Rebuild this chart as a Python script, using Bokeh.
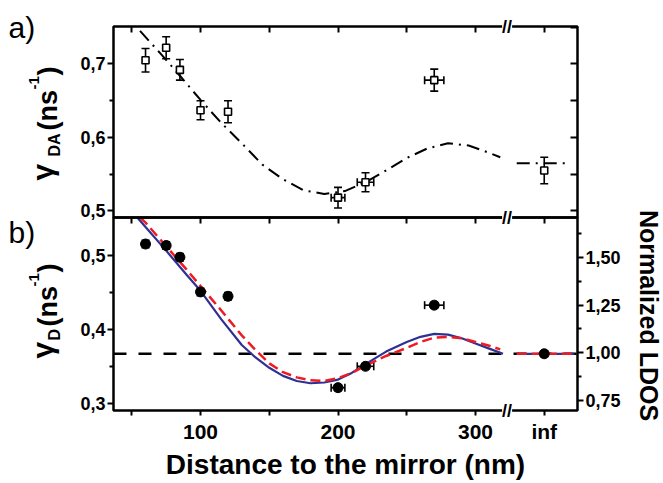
from math import pi
from bokeh.plotting import figure
from bokeh.models import (LinearAxis, Range1d, FixedTicker, CustomJSTickFormatter, Whisker,
                          TeeHead, ColumnDataSource, Label, BoxAnnotation)
from bokeh.embed import file_html
from bokeh.resources import INLINE

# ---------------- data ----------------
INF_POS = 350          # position of "inf" on the broken distance axis
BREAK_X = 323          # where the axis break is drawn
dist = [60, 75, 85, 100, 120, 200, 220, 270, INF_POS]
dist_err = [0, 0, 0, 0, 0, 5, 6, 7, 0]

gamma_da = [0.705, 0.722, 0.692, 0.637, 0.635, 0.518, 0.539, 0.678, 0.555]
gamma_da_err = [0.016, 0.015, 0.014, 0.013, 0.015, 0.014, 0.013, 0.015, 0.018]

gamma_d = [0.516, 0.514, 0.498, 0.451, 0.445, 0.321, 0.350, 0.433, 0.367]
gamma_d_err = [0.005, 0.005, 0.005, 0.005, 0.005, 0.004, 0.004, 0.004, 0.004]

fit_a_x = [56, 70, 85, 100, 115, 130, 145, 160, 175, 190, 205, 220, 235, 250, 265, 280, 295, 310, 318]
fit_a_y = [0.745, 0.716, 0.684, 0.651, 0.620, 0.592, 0.563, 0.543, 0.528, 0.523, 0.527, 0.539,
           0.555, 0.572, 0.585, 0.592, 0.589, 0.579, 0.573]
fit_a_inf_x = [330, 368]
fit_a_inf_y = [0.565, 0.565]

blue_x = [54, 60, 75, 90, 100, 115, 130, 140, 150, 160, 170, 180, 190, 200, 210, 220, 235,
          250, 260, 270, 280, 290, 300, 310, 320]
blue_y = [0.552, 0.539, 0.507, 0.474, 0.4525, 0.414, 0.379, 0.362, 0.348, 0.337, 0.330, 0.327,
          0.328, 0.332, 0.341, 0.353, 0.370, 0.383, 0.390, 0.394, 0.393, 0.388, 0.381, 0.374, 0.367]
red_x = [56, 60, 75, 90, 100, 115, 130, 140, 150, 160, 170, 180, 190, 200, 210, 220, 235,
         250, 260, 270, 280, 290, 300, 310, 318]
red_y = [0.552, 0.545, 0.513, 0.481, 0.459, 0.426, 0.392, 0.372, 0.354, 0.342, 0.335, 0.331,
         0.330, 0.334, 0.341, 0.351, 0.364, 0.375, 0.383, 0.389, 0.390, 0.388, 0.383, 0.378, 0.373]
flat_x = [330, 372]
flat_y = [0.367, 0.367]
gamma_d_ref = 0.367

x_major = [100, 200, 300, INF_POS]
x_minor = [50, 150, 250]
x_all = [50, 100, 150, 200, 250, 300, INF_POS]
ya_major = [0.5, 0.6, 0.7]
ya_minor = [0.55, 0.65]
ya_all = [0.5, 0.55, 0.6, 0.65, 0.7, 0.75]
yb_major = [0.3, 0.4, 0.5]
yb_minor = [0.35, 0.45]
ldos_major = [0.75, 1.0, 1.25, 1.5]
ldos_minor = [0.875, 1.125, 1.375, 1.625]

# panel limits (data units)
XA_LO, XA_HI = 36.7, 374.2
YA_LO, YA_HI = 0.491, 0.751
YB_LO, YB_HI = 0.290, 0.552
LD_LO, LD_HI = 0.698, 1.708

# ---------------- layout (pixels on the canvas) ----------------
FONT = "Liberation Sans"
BLUE = "#2e3192"
RED = "#ed1c24"
CW, CH = 663, 483               # canvas == frame
PL, PR = 113, 577               # panel left / right
PT, PM, PB = 26, 217, 410       # panel a top, a/b boundary, panel b bottom
BASE_SHIFT = 0.33               # label anchor correction (fraction of font size)


def ext(lo, hi, p_lo, p_hi, total):
    """Range whose [lo, hi] occupies the pixels [p_lo, p_hi] of a span of `total` px."""
    k = (hi - lo) / (p_hi - p_lo)
    return Range1d(lo - p_lo * k, hi + (total - p_hi) * k)


xr = ext(XA_LO, XA_HI, PL, PR, CW)
yb = ext(YB_LO, YB_HI, CH - PB, CH - PM, CH)
ya = ext(YA_LO, YA_HI, CH - PM, CH - PT, CH)
yl = ext(LD_LO, LD_HI, CH - PB, CH - PM, CH)

p = figure(width=CW, height=CH, x_range=xr, y_range=yb, min_border=0,
           x_axis_location=None, y_axis_location=None, toolbar_location=None,
           output_backend="svg", title=None)
p.extra_y_ranges = {"a": ya, "ldos": yl}
p.grid.visible = False
p.outline_line_color = None

EMPTY = CustomJSTickFormatter(code="return ''")
COMMA1 = CustomJSTickFormatter(code="return tick.toFixed(1).replace('.', ',')")
COMMA2 = CustomJSTickFormatter(code="return tick.toFixed(2).replace('.', ',')")


def axis(side, loc, ticks, minor=(), fmt=EMPTY, yname="default", t_out=6, m_out=4, t_in=0,
         size="18px", standoff=2):
    ax = LinearAxis(fixed_location=loc, y_range_name=yname, formatter=fmt,
                    ticker=FixedTicker(ticks=list(ticks), minor_ticks=list(minor)))
    ax.axis_line_color = None
    ax.major_tick_line_width = 2
    ax.minor_tick_line_width = 2
    ax.major_tick_out = t_out
    ax.major_tick_in = t_in
    ax.minor_tick_out = m_out
    ax.minor_tick_in = 0
    ax.major_label_text_font = FONT
    ax.major_label_text_font_style = "bold"
    ax.major_label_text_font_size = size
    ax.major_label_text_color = "black"
    ax.major_label_standoff = standoff
    p.add_layout(ax, side)
    return ax


# panel frames
p.add_layout(BoxAnnotation(left=XA_LO, right=XA_HI, bottom=YA_LO, top=YA_HI, y_range_name="a",
                           fill_alpha=0, line_color="black", line_alpha=1.0, line_width=2.5,
                           level="overlay"))
p.add_layout(BoxAnnotation(left=XA_LO, right=XA_HI, bottom=YB_LO, top=YB_HI,
                           fill_alpha=0, line_color="black", line_alpha=1.0, line_width=2.5,
                           level="overlay"))

# axes
axis("left", XA_LO, ya_major, ya_minor, COMMA1, "a")
axis("left", XA_LO, yb_major, yb_minor, COMMA1)
axis("right", XA_HI, ldos_major, ldos_minor, COMMA2, "ldos")
axis("right", XA_HI, ya_all, yname="a", t_out=0, m_out=0, t_in=7)
axis("above", YA_HI, x_all, yname="a", t_out=0, m_out=0, t_in=6)
axis("above", YB_HI, x_all, t_out=0, m_out=0, t_in=6)
axis("below", YB_LO, x_major, x_minor,
     CustomJSTickFormatter(args=dict(inf=INF_POS), code="return tick == inf ? 'inf' : tick.toFixed(0)"),
     t_out=5, m_out=5, size="21px", standoff=4)

# ---- panel a ----
p.line(fit_a_x, fit_a_y, y_range_name="a", line_color="black", line_width=2, line_dash="13 6 2 6")
p.line(fit_a_inf_x, fit_a_inf_y, y_range_name="a", line_color="black", line_width=2,
       line_dash="13 6 2 6")


def whiskers(xs, ys, yerr, xerr, yname):
    src_y = ColumnDataSource(dict(x=xs, lo=[y - e for y, e in zip(ys, yerr)],
                                  hi=[y + e for y, e in zip(ys, yerr)]))
    p.add_layout(Whisker(source=src_y, base="x", lower="lo", upper="hi", dimension="height",
                         y_range_name=yname, line_width=1.6, line_color="black",
                         lower_head=TeeHead(size=8, line_width=1.6),
                         upper_head=TeeHead(size=8, line_width=1.6)))
    sel = [i for i, e in enumerate(xerr) if e > 0]
    src_x = ColumnDataSource(dict(y=[ys[i] for i in sel],
                                  lo=[xs[i] - xerr[i] for i in sel],
                                  hi=[xs[i] + xerr[i] for i in sel]))
    p.add_layout(Whisker(source=src_x, base="y", lower="lo", upper="hi", dimension="width",
                         y_range_name=yname, line_width=1.6, line_color="black",
                         lower_head=TeeHead(size=8, line_width=1.6),
                         upper_head=TeeHead(size=8, line_width=1.6)))


whiskers(dist, gamma_da, gamma_da_err, dist_err, "a")
p.scatter(dist, gamma_da, y_range_name="a", marker="square", size=7, fill_color="white",
          line_color="black", line_width=1.6)

# ---- panel b ----
p.line([XA_LO, XA_HI], [gamma_d_ref, gamma_d_ref], line_color="black", line_width=2.5,
       line_dash="13 12")
p.line(blue_x, blue_y, line_color=BLUE, line_width=2.2)
p.line(flat_x, flat_y, line_color=BLUE, line_width=2.2)
p.line(red_x, red_y, line_color=RED, line_width=2.5, line_dash="10 5")
p.line(flat_x, flat_y, line_color=RED, line_width=2.5, line_dash="10 5")
whiskers(dist, gamma_d, gamma_d_err, dist_err, "default")
p.scatter(dist, gamma_d, marker="circle", size=10, fill_color="black", line_color="black")

# axis-break marks
for yv, yn in [(YA_HI, "a"), (YB_HI, "default"), (YB_LO, "default")]:
    p.add_layout(Label(x=BREAK_X, y=yv, y_range_name=yn, text="//", text_align="center",
                       text_baseline="middle", text_font=FONT, text_font_style="bold",
                       text_font_size="18px", text_color="black", level="overlay",
                       background_fill_color="white"))


# ---------------- texts outside the panels ----------------
def text(t, px, py, size, bold=True, rotated=False, align="left", baseline="alphabetic"):
    s = BASE_SHIFT * size if baseline == "alphabetic" else 0
    if rotated:
        px -= s
    else:
        py -= s
    p.add_layout(Label(x=px, y=CH - py, x_units="screen", y_units="screen", text=t,
                       angle=pi / 2 if rotated else 0.0, text_align=align,
                       text_baseline=baseline, text_font=FONT,
                       text_font_style="bold" if bold else "normal",
                       text_font_size=f"{size}px", text_color="black", level="overlay"))


for t, px, py, sz in [
    ("γ", 52, 180, 30), ("DA", 59, 156, 16), ("(ns", 56, 130, 27),
    ("-1", 38, 89, 15), (")", 56, 75, 27),
    ("γ", 52, 358, 30), ("D", 59, 340, 16), ("(ns", 56, 326, 27),
    ("-1", 38, 286, 15), (")", 56, 272, 27),
]:
    text(t, px, py, sz, rotated=True)

text("a)", 8, 37, 30, bold=False)
text("b)", 8, 242, 30, bold=False)
text("Distance to the mirror (nm)", 345, 473, 28, align="center")
p.add_layout(Label(x=648, y=CH - 315, x_units="screen", y_units="screen", text="Normalized LDOS",
                   angle=-pi / 2, text_align="center", text_baseline="middle", text_font=FONT,
                   text_font_style="bold", text_font_size="25px", text_color="black",
                   level="overlay"))

open("out.html", "w").write(file_html(p, INLINE))
